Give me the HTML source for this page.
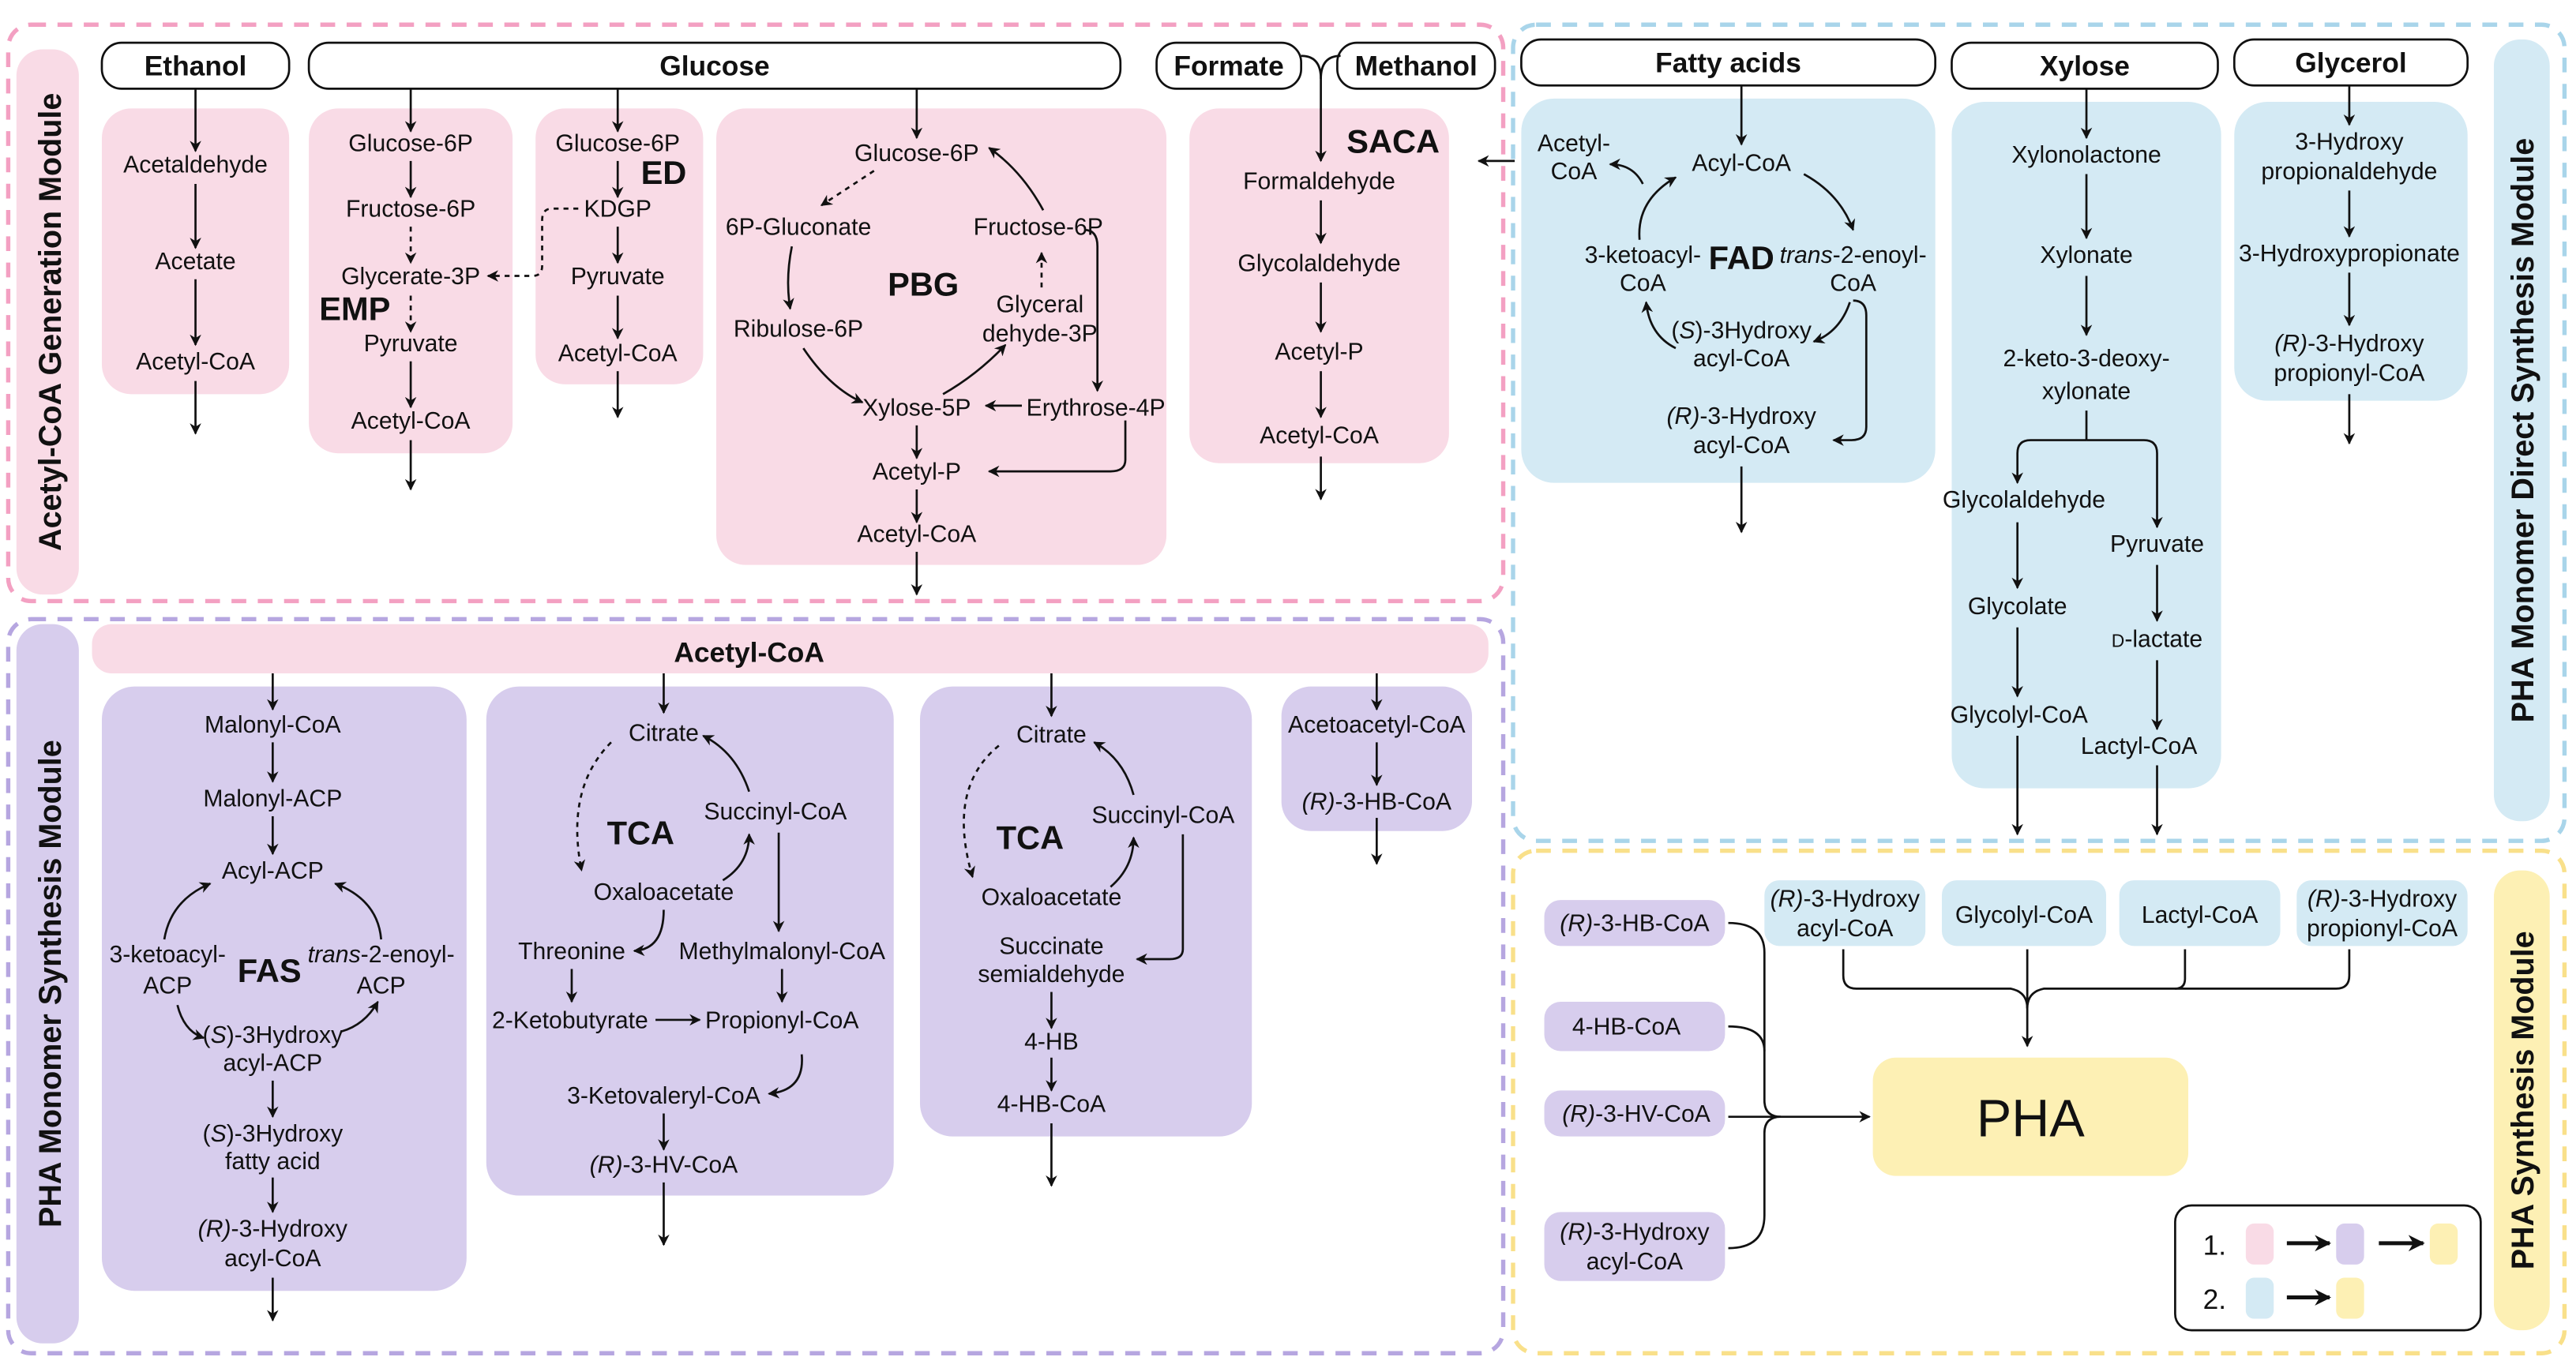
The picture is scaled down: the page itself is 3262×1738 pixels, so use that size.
<!DOCTYPE html>
<html><head><meta charset="utf-8"><style>
html,body{margin:0;padding:0;background:#fff;}
svg{display:block;}
text{font-family:"Liberation Sans",Arial,sans-serif;font-size:14.5px;fill:#111;text-anchor:middle;}
.b{font-weight:bold;}
.L{font-size:20px;font-weight:bold;}
.M{font-size:19px;font-weight:bold;}
.S{font-size:17px;font-weight:bold;}
.ln{stroke:#111;stroke-width:1.3;fill:none;}
.d{stroke-dasharray:3 3;}
</style></head><body>
<svg width="3262" height="1738" viewBox="0 0 1568 835.4" xmlns="http://www.w3.org/2000/svg">
<defs>
<marker id="a" viewBox="0 0 10 10" refX="9" refY="5" markerWidth="7" markerHeight="7" orient="auto-start-reverse" markerUnits="userSpaceOnUse"><path d="M0,0 L10,5 L0,10 L3,5 z" fill="#111"/></marker>
<marker id="b" viewBox="0 0 10 10" refX="9" refY="5" markerWidth="10" markerHeight="10" orient="auto" markerUnits="userSpaceOnUse"><path d="M0,0 L10,5 L0,10 L3,5 z" fill="#111"/></marker>
</defs>
<g class="ln" style="stroke-width:2.6;stroke-dasharray:9 7">
<rect x="5" y="15" width="910" height="351" rx="14" stroke="#f3a0c2"/>
<rect x="921" y="15" width="640" height="497" rx="14" stroke="#a9d5ea"/>
<rect x="5" y="377" width="910" height="447" rx="14" stroke="#b6a6e0"/>
<rect x="921" y="518" width="640" height="306" rx="14" stroke="#f9e08a"/>
</g>
<rect x="10" y="30" width="38" height="332" rx="16" fill="#f9dbe6"/>
<rect x="1518" y="24" width="34" height="476" rx="16" fill="#d4eaf4"/>
<rect x="10" y="380" width="38" height="438" rx="16" fill="#d7cded"/>
<rect x="1518" y="530" width="34" height="280" rx="16" fill="#fdf0b4"/>
<text class="M" transform="translate(37,196) rotate(-90)">Acetyl-CoA Generation Module</text>
<text class="M" transform="translate(37,599) rotate(-90)">PHA Monomer Synthesis Module</text>
<text class="M" transform="translate(1542,262) rotate(-90)">PHA Monomer Direct Synthesis Module</text>
<text class="M" transform="translate(1542,670) rotate(-90)">PHA Synthesis Module</text>

<g fill="#f9dbe6">
<rect x="62" y="66" width="114" height="174" rx="18"/>
<rect x="188" y="66" width="124" height="210" rx="18"/>
<rect x="326" y="66" width="102" height="168" rx="18"/>
<rect x="436" y="66" width="274" height="278" rx="18"/>
<rect x="724" y="66" width="158" height="216" rx="18"/>
<rect x="56" y="380" width="850" height="30" rx="12"/>
</g>
<g fill="#d4eaf4">
<rect x="926" y="60" width="252" height="234" rx="20"/>
<rect x="1188" y="62" width="164" height="418" rx="20"/>
<rect x="1360" y="62" width="142" height="182" rx="20"/>
<rect x="1074" y="536" width="98" height="40" rx="9"/>
<rect x="1182" y="536" width="100" height="40" rx="9"/>
<rect x="1290" y="536" width="98" height="40" rx="9"/>
<rect x="1398" y="536" width="104" height="40" rx="9"/>
</g>
<g fill="#d7cded">
<rect x="62" y="418" width="222" height="368" rx="20"/>
<rect x="296" y="418" width="248" height="310" rx="20"/>
<rect x="560" y="418" width="202" height="274" rx="20"/>
<rect x="780" y="418" width="116" height="88" rx="18"/>
<rect x="940" y="548" width="110" height="28" rx="10"/>
<rect x="940" y="610" width="110" height="30" rx="10"/>
<rect x="940" y="664" width="110" height="28" rx="10"/>
<rect x="940" y="738" width="110" height="42" rx="10"/>
</g>
<rect x="1140" y="644" width="192" height="72" rx="14" fill="#fdf0b4"/>

<g fill="#fff" stroke="#111" stroke-width="1.3">
<rect x="62" y="26" width="114" height="28" rx="12"/>
<rect x="188" y="26" width="494" height="28" rx="12"/>
<rect x="704" y="26" width="88" height="28" rx="12"/>
<rect x="814" y="26" width="96" height="28" rx="12"/>
<rect x="926" y="24" width="252" height="28" rx="12"/>
<rect x="1188" y="26" width="162" height="28" rx="12"/>
<rect x="1360" y="24" width="142" height="28" rx="12"/>
<rect x="1324" y="734" width="186" height="76" rx="10"/>
</g>
<rect x="1367" y="745" width="17" height="25" rx="5" fill="#f9dbe6"/>
<rect x="1422" y="745" width="17" height="25" rx="5" fill="#d7cded"/>
<rect x="1479" y="745" width="17" height="25" rx="5" fill="#fdf0b4"/>
<rect x="1367" y="778" width="17" height="25" rx="5" fill="#d4eaf4"/>
<rect x="1422" y="778" width="17" height="25" rx="5" fill="#fdf0b4"/>

<text class="S" x="119" y="46">Ethanol</text>
<text class="S" x="435" y="46">Glucose</text>
<text class="S" x="748" y="46">Formate</text>
<text class="S" x="862" y="46">Methanol</text>
<text class="S" x="1052" y="44">Fatty acids</text>
<text class="S" x="1269" y="46">Xylose</text>
<text class="S" x="1431" y="44">Glycerol</text>

<!-- Ethanol -->
<text x="119" y="105">Acetaldehyde</text>
<text x="119" y="164">Acetate</text>
<text x="119" y="225">Acetyl-CoA</text>
<g class="ln" marker-end="url(#a)">
<line x1="119" y1="54" x2="119" y2="92"/><line x1="119" y1="112" x2="119" y2="151"/>
<line x1="119" y1="170" x2="119" y2="210"/><line x1="119" y1="232" x2="119" y2="264"/>
</g>
<!-- EMP -->
<text x="250" y="92">Glucose-6P</text>
<text x="250" y="132">Fructose-6P</text>
<text x="250" y="173">Glycerate-3P</text>
<text class="L" x="216" y="195">EMP</text>
<text x="250" y="214">Pyruvate</text>
<text x="250" y="261">Acetyl-CoA</text>
<g class="ln" marker-end="url(#a)">
<line x1="250" y1="54" x2="250" y2="80"/><line x1="250" y1="98" x2="250" y2="120"/>
<line class="ln d" x1="250" y1="138" x2="250" y2="160"/><line class="ln d" x1="250" y1="180" x2="250" y2="202"/>
<line x1="250" y1="220" x2="250" y2="248"/><line x1="250" y1="268" x2="250" y2="298"/>
<path class="ln d" d="M352,127 H336 Q330,127 330,134 V162 Q330,168 324,168 H297"/>
</g>
<!-- ED -->
<text x="376" y="92">Glucose-6P</text>
<text class="L" x="404" y="112">ED</text>
<text x="376" y="132">KDGP</text>
<text x="376" y="173">Pyruvate</text>
<text x="376" y="220">Acetyl-CoA</text>
<g class="ln" marker-end="url(#a)">
<line x1="376" y1="54" x2="376" y2="80"/><line x1="376" y1="98" x2="376" y2="120"/>
<line x1="376" y1="138" x2="376" y2="160"/><line x1="376" y1="180" x2="376" y2="206"/>
<line x1="376" y1="226" x2="376" y2="254"/>
</g>
<!-- PBG -->
<text x="558" y="98">Glucose-6P</text>
<text x="486" y="143">6P-Gluconate</text>
<text x="632" y="143">Fructose-6P</text>
<text class="L" x="562" y="180">PBG</text>
<text x="633" y="190">Glyceral</text>
<text x="633" y="208">dehyde-3P</text>
<text x="486" y="205">Ribulose-6P</text>
<text x="558" y="253">Xylose-5P</text>
<text x="667" y="253">Erythrose-4P</text>
<text x="558" y="292">Acetyl-P</text>
<text x="558" y="330">Acetyl-CoA</text>
<g class="ln" marker-end="url(#a)">
<line x1="558" y1="54" x2="558" y2="84"/>
<path class="ln d" d="M532,104 L500,125"/>
<path d="M482,150 Q478,170 481,188"/>
<path d="M489,212 Q505,236 525,245"/>
<path d="M574,240 Q595,228 612,210"/>
<path class="ln d" d="M634,175 L634,154"/>
<path d="M635,128 Q622,104 602,90"/>
<path d="M660,140 Q668,140 668,150 V238"/>
<line x1="622" y1="247" x2="600" y2="247"/>
<path d="M685,256 V280 Q685,287 676,287 H602"/>
<line x1="558" y1="259" x2="558" y2="279"/><line x1="558" y1="298" x2="558" y2="318"/>
<line x1="558" y1="336" x2="558" y2="362"/>
</g>
<!-- SACA -->
<text class="L" x="848" y="93">SACA</text>
<text x="803" y="115">Formaldehyde</text>
<text x="803" y="165">Glycolaldehyde</text>
<text x="803" y="219">Acetyl-P</text>
<text x="803" y="270">Acetyl-CoA</text>
<g class="ln" marker-end="url(#a)">
<path d="M792,34 Q804,34 804,48 V98"/><path class="ln" d="M816,34 Q804,34 804,48" marker-end="none"/>
<line x1="804" y1="122" x2="804" y2="148"/><line x1="804" y1="172" x2="804" y2="202"/>
<line x1="804" y1="226" x2="804" y2="254"/><line x1="804" y1="278" x2="804" y2="304"/>
<line x1="922" y1="98" x2="900" y2="98"/>
</g>
<!-- FAD -->
<text x="958" y="92">Acetyl-</text><text x="958" y="109">CoA</text>
<text x="1060" y="104">Acyl-CoA</text>
<text x="1000" y="160">3-ketoacyl-</text><text x="1000" y="177">CoA</text>
<text class="L" x="1060" y="164">FAD</text>
<text x="1128" y="160"><tspan font-style="italic">trans</tspan>-2-enoyl-</text><text x="1128" y="177">CoA</text>
<text x="1060" y="206">(<tspan font-style="italic">S</tspan>)-3Hydroxy</text><text x="1060" y="223">acyl-CoA</text>
<text x="1060" y="258"><tspan font-style="italic">(R)</tspan>-3-Hydroxy</text><text x="1060" y="276">acyl-CoA</text>
<g class="ln" marker-end="url(#a)">
<line x1="1060" y1="52" x2="1060" y2="88"/>
<path d="M998,146 Q996,122 1020,108"/>
<path d="M1000,112 Q994,100 980,100"/>
<path d="M1098,106 Q1120,118 1128,140"/>
<path d="M1126,184 Q1120,202 1104,208"/>
<path d="M1020,212 Q1004,204 1002,184"/>
<path d="M1128,183 Q1136,183 1136,192 V260 Q1136,268 1127,268 H1116"/>
<line x1="1060" y1="284" x2="1060" y2="324"/>
</g>
<!-- Xylose -->
<text x="1270" y="99">Xylonolactone</text>
<text x="1270" y="160">Xylonate</text>
<text x="1270" y="223">2-keto-3-deoxy-</text><text x="1270" y="243">xylonate</text>
<text x="1232" y="309">Glycolaldehyde</text>
<text x="1313" y="336">Pyruvate</text>
<text x="1228" y="374">Glycolate</text>
<text x="1313" y="394"><tspan font-size="11">D</tspan>-lactate</text>
<text x="1229" y="440">Glycolyl-CoA</text>
<text x="1302" y="459">Lactyl-CoA</text>
<g class="ln" marker-end="url(#a)">
<line x1="1270" y1="54" x2="1270" y2="84"/><line x1="1270" y1="106" x2="1270" y2="145"/>
<line x1="1270" y1="168" x2="1270" y2="204"/>
<path class="ln" d="M1270,250 V268" marker-end="none"/>
<path d="M1270,268 H1236 Q1228,268 1228,276 V294"/>
<path d="M1270,268 H1305 Q1313,268 1313,276 V321"/>
<line x1="1228" y1="318" x2="1228" y2="358"/><line x1="1228" y1="382" x2="1228" y2="424"/>
<line x1="1228" y1="448" x2="1228" y2="508"/>
<line x1="1313" y1="344" x2="1313" y2="378"/><line x1="1313" y1="402" x2="1313" y2="444"/>
<line x1="1313" y1="466" x2="1313" y2="508"/>
</g>
<!-- Glycerol -->
<text x="1430" y="91">3-Hydroxy</text><text x="1430" y="109">propionaldehyde</text>
<text x="1430" y="159">3-Hydroxypropionate</text>
<text x="1430" y="214"><tspan font-style="italic">(R)</tspan>-3-Hydroxy</text><text x="1430" y="232">propionyl-CoA</text>
<g class="ln" marker-end="url(#a)">
<line x1="1430" y1="52" x2="1430" y2="76"/><line x1="1430" y1="116" x2="1430" y2="144"/>
<line x1="1430" y1="166" x2="1430" y2="198"/><line x1="1430" y1="240" x2="1430" y2="270"/>
</g>
<!-- Purple -->
<text class="S" x="456" y="403">Acetyl-CoA</text>
<text x="166" y="446">Malonyl-CoA</text>
<text x="166" y="491">Malonyl-ACP</text>
<text x="166" y="535">Acyl-ACP</text>
<text x="102" y="586">3-ketoacyl-</text><text x="102" y="605">ACP</text>
<text class="L" x="164" y="598">FAS</text>
<text x="232" y="586"><tspan font-style="italic">trans</tspan>-2-enoyl-</text><text x="232" y="605">ACP</text>
<text x="166" y="635">(<tspan font-style="italic">S</tspan>)-3Hydroxy</text><text x="166" y="652">acyl-ACP</text>
<text x="166" y="695">(<tspan font-style="italic">S</tspan>)-3Hydroxy</text><text x="166" y="712">fatty acid</text>
<text x="166" y="753"><tspan font-style="italic">(R)</tspan>-3-Hydroxy</text><text x="166" y="771">acyl-CoA</text>
<g class="ln" marker-end="url(#a)">
<line x1="166" y1="410" x2="166" y2="432"/><line x1="166" y1="452" x2="166" y2="476"/>
<line x1="166" y1="497" x2="166" y2="520"/>
<path d="M100,572 Q104,548 128,538"/>
<path d="M232,572 Q230,548 204,538"/>
<path d="M108,612 Q112,628 124,632"/>
<path d="M208,628 Q222,624 230,610"/>
<line x1="166" y1="658" x2="166" y2="680"/><line x1="166" y1="717" x2="166" y2="738"/>
<line x1="166" y1="778" x2="166" y2="804"/>
</g>
<!-- TCA1 -->
<text x="404" y="451">Citrate</text>
<text x="472" y="499">Succinyl-CoA</text>
<text class="L" x="390" y="514">TCA</text>
<text x="404" y="548">Oxaloacetate</text>
<text x="348" y="584">Threonine</text>
<text x="476" y="584">Methylmalonyl-CoA</text>
<text x="347" y="626">2-Ketobutyrate</text>
<text x="476" y="626">Propionyl-CoA</text>
<text x="404" y="672">3-Ketovaleryl-CoA</text>
<text x="404" y="714"><tspan font-style="italic">(R)</tspan>-3-HV-CoA</text>
<g class="ln" marker-end="url(#a)">
<line x1="404" y1="410" x2="404" y2="434"/>
<path class="ln d" d="M372,452 Q344,480 354,530"/>
<path d="M456,482 Q448,458 428,448"/>
<path d="M440,536 Q456,526 456,508"/>
<line x1="474" y1="507" x2="474" y2="567"/>
<path d="M404,554 Q404,578 386,579"/>
<line x1="348" y1="590" x2="348" y2="610"/>
<line x1="399" y1="621" x2="426" y2="621"/>
<line x1="476" y1="590" x2="476" y2="610"/>
<path d="M488,642 Q490,664 468,666"/>
<line x1="404" y1="678" x2="404" y2="700"/><line x1="404" y1="720" x2="404" y2="758"/>
</g>
<!-- TCA2 -->
<text x="640" y="452">Citrate</text>
<text x="708" y="501">Succinyl-CoA</text>
<text class="L" x="627" y="517">TCA</text>
<text x="640" y="551">Oxaloacetate</text>
<text x="640" y="581">Succinate</text><text x="640" y="598">semialdehyde</text>
<text x="640" y="639">4-HB</text>
<text x="640" y="677">4-HB-CoA</text>
<g class="ln" marker-end="url(#a)">
<line x1="640" y1="410" x2="640" y2="436"/>
<path class="ln d" d="M608,454 Q576,480 592,534"/>
<path d="M690,484 Q684,462 666,452"/>
<path d="M676,540 Q690,528 690,510"/>
<path d="M720,508 V578 Q720,584 712,584 H692"/>
<line x1="640" y1="604" x2="640" y2="626"/><line x1="640" y1="644" x2="640" y2="664"/>
<line x1="640" y1="684" x2="640" y2="722"/>
</g>
<!-- acetoacetyl -->
<text x="838" y="446">Acetoacetyl-CoA</text>
<text x="838" y="493"><tspan font-style="italic">(R)</tspan>-3-HB-CoA</text>
<g class="ln" marker-end="url(#a)">
<line x1="838" y1="410" x2="838" y2="432"/><line x1="838" y1="452" x2="838" y2="478"/>
<line x1="838" y1="498" x2="838" y2="526"/>
</g>
<!-- PHA module -->
<text x="995" y="567"><tspan font-style="italic">(R)</tspan>-3-HB-CoA</text>
<text x="990" y="630">4-HB-CoA</text>
<text x="996" y="683"><tspan font-style="italic">(R)</tspan>-3-HV-CoA</text>
<text x="995" y="755"><tspan font-style="italic">(R)</tspan>-3-Hydroxy</text><text x="995" y="773">acyl-CoA</text>
<text x="1123" y="552"><tspan font-style="italic">(R)</tspan>-3-Hydroxy</text><text x="1123" y="570">acyl-CoA</text>
<text x="1232" y="562">Glycolyl-CoA</text>
<text x="1339" y="562">Lactyl-CoA</text>
<text x="1450" y="552"><tspan font-style="italic">(R)</tspan>-3-Hydroxy</text><text x="1450" y="570">propionyl-CoA</text>
<text x="1236" y="692" style="font-size:32px">PHA</text>
<g class="ln">
<path d="M1052,562 Q1074,562 1074,580 V670 Q1074,680 1084,680"/>
<path d="M1052,625 Q1074,625 1074,640"/>
<path d="M1052,760 Q1074,760 1074,740 V690 Q1074,680 1084,680"/>
<path d="M1052,680 H1138" marker-end="url(#a)"/>
<path d="M1122,578 V594 Q1122,602 1130,602 H1224 Q1234,604 1234,614"/>
<path d="M1430,578 V594 Q1430,602 1422,602 H1244 Q1234,604 1234,614"/>
<path d="M1330,578 V596 Q1330,602 1324,602"/>
<path d="M1234,578 V637" marker-end="url(#a)"/>
</g>
<!-- legend -->
<text x="1348" y="764" style="font-size:17px">1.</text>
<text x="1348" y="797" style="font-size:17px">2.</text>
<g class="ln" style="stroke-width:2.4" marker-end="url(#b)">
<line x1="1392" y1="757" x2="1418" y2="757"/>
<line x1="1448" y1="757" x2="1475" y2="757"/>
<line x1="1392" y1="790" x2="1418" y2="790"/>
</g>
</svg>
</body></html>
